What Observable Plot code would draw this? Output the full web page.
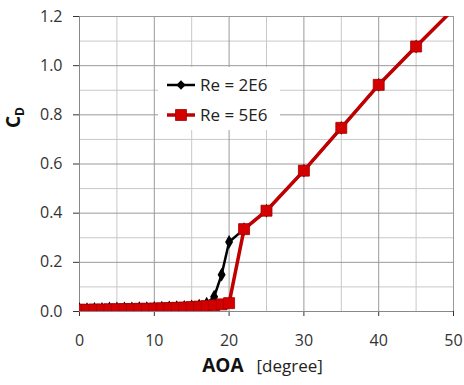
<!DOCTYPE html>
<html><head><meta charset="utf-8">
<script src="https://cdn.jsdelivr.net/npm/d3@7"></script>
<script src="https://cdn.jsdelivr.net/npm/@observablehq/plot@0.6"></script>
<style>body{margin:0;background:#fff;}</style>
</head><body><div id="chart"></div>
<script>
const seriesNames = ["Re = 2E6", "Re = 5E6"];
const aoa2 = [0,1,2,3,4,5,6,7,8,9,10,11,12,13,14,15,16,17,18,19,20,22,25,30,35,40,45,50];
const cd2  = [0.009,0.009,0.010,0.010,0.012,0.012,0.013,0.013,0.014,0.014,0.015,0.016,0.017,0.018,0.019,0.021,0.024,0.032,0.06,0.15,0.283,0.335,0.41,0.573,0.747,0.922,1.078,1.23];
const aoa5 = [0,1,2,3,4,5,6,7,8,9,10,11,12,13,14,15,16,17,18,19,20,22,25,30,35,40,45,50];
const cd5  = [0.007,0.007,0.008,0.008,0.009,0.009,0.010,0.010,0.011,0.011,0.012,0.013,0.014,0.015,0.016,0.018,0.020,0.022,0.025,0.029,0.034,0.335,0.41,0.573,0.747,0.922,1.078,1.23];
const xMajor = [0,10,20,30,40,50];
const xMinor = [5,15,25,35,45];
const yMajor = [0,0.2,0.4,0.6,0.8,1.0,1.2];
const yMinor = [0.1,0.3,0.5,0.7,0.9,1.1];

const s2 = aoa2.map((a,i)=>({aoa:a, cd:cd2[i]}));
const s5 = aoa5.map((a,i)=>({aoa:a, cd:cd5[i]}));

const font = "'Open Sans', sans-serif";
const plot = Plot.plot({
  width: 464, height: 385,
  marginLeft: 79, marginRight: 11, marginTop: 16, marginBottom: 74,
  style: {fontFamily: font, fontSize: "16px", color: "#333", background: "#fff", overflow: "visible"},
  x: {domain: [0,50], ticks: xMajor, tickSize: 5, tickPadding: 18, label: null},
  y: {domain: [0,1.2], ticks: yMajor, tickFormat: d3.format(".1f"), tickSize: 6, tickPadding: 11, label: null},
  marks: [
    Plot.ruleX(xMinor, {stroke: "#c8c8c8", strokeWidth: 1}),
    Plot.ruleY(yMinor, {stroke: "#c8c8c8", strokeWidth: 1}),
    Plot.ruleX(xMajor.slice(1), {stroke: "#9a9a9a", strokeWidth: 1}),
    Plot.ruleY(yMajor.slice(1), {stroke: "#9a9a9a", strokeWidth: 1}),
    Plot.ruleX([0], {stroke: "#888", strokeWidth: 1}),
    Plot.ruleY([0], {stroke: "#888", strokeWidth: 1}),
    Plot.line(s2, {x: "aoa", y: "cd", stroke: "#000", strokeWidth: 2.5, clip: true}),
    Plot.dot(s2, {x: "aoa", y: "cd", symbol: "diamond", fill: "#000", r: 4.2, clip: true}),
    Plot.line(s5, {x: "aoa", y: "cd", stroke: "#c00000", strokeWidth: 3.5, clip: true}),
    Plot.dot(s5, {x: "aoa", y: "cd", symbol: "square", fill: "#d40000", stroke: "#a00000", strokeWidth: 0.8, r: 6.2, clip: true}),
    Plot.text(["AOA"], {frameAnchor: "bottom", textAnchor: "end", dx: -23, dy: 60, fontWeight: "bold", fontSize: 19, fill: "#111"}),
    Plot.text(["[degree]"], {frameAnchor: "bottom", textAnchor: "start", dx: -10, dy: 60, fontSize: 17, fill: "#222"})
  ]
});
document.getElementById("chart").appendChild(plot);

const svg = d3.select(plot);
// legend
const lg = svg.append("g").attr("font-family", font).attr("text-anchor", "start");
lg.append("rect").attr("x", 158).attr("y", 67).attr("width", 122).attr("height", 63).attr("fill", "#fff");
const items = [{c: "#000", sym: d3.symbolDiamond2, size: 55, w: 2.5, y: 85}, {c: "#c00000", sym: d3.symbolSquare, size: 120, w: 3.5, y: 115}];
items.forEach((it, i) => {
  lg.append("line").attr("x1", 167).attr("x2", 195).attr("y1", it.y).attr("y2", it.y).attr("stroke", it.c).attr("stroke-width", it.w);
  lg.append("path").attr("d", d3.symbol(it.sym, it.size)()).attr("transform", `translate(181,${it.y})`)
    .attr("fill", i ? "#d40000" : "#000").attr("stroke", i ? "#a00000" : "none").attr("stroke-width", 0.8);
  lg.append("text").attr("x", 200).attr("y", it.y).attr("dy", "0.35em").attr("font-size", 17).attr("fill", "#222").text(seriesNames[i]);
});
// y label C_D
const yl = svg.append("text").attr("transform", "translate(20,128) rotate(-90)").attr("font-family", font)
  .attr("text-anchor", "start").attr("font-weight", "bold").attr("font-size", 19).attr("fill", "#111");
yl.append("tspan").text("C");
yl.append("tspan").attr("font-size", 12).attr("dy", 4).text("D");
</script></body></html>
